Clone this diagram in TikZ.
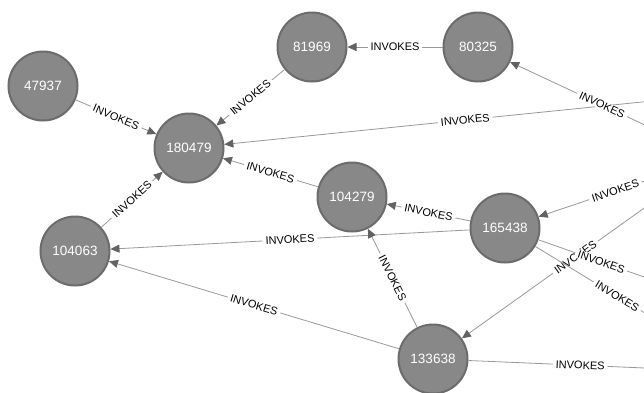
\documentclass[tikz,border=0pt]{standalone}
\usepackage{fontspec}
\setmainfont{Liberation Sans}
\usepackage{tikz}
\usetikzlibrary{arrows.meta}
\definecolor{nodegray}{HTML}{888888}
\definecolor{rimgray}{HTML}{6C6C6C}
\definecolor{edgegray}{HTML}{999999}
\definecolor{tipgray}{HTML}{626262}

\begin{document}
\begin{tikzpicture}[
x=1pt, y=-1pt,
every node/.style={circle, draw=rimgray, fill=nodegray, line width=2pt, minimum size=69pt, inner sep=0, text=white, font=\fontsize{13.5}{14}\selectfont},
lbl/.style={rectangle, draw=none, fill=white, text=black, minimum size=0pt, inner xsep=3pt, inner ysep=0.5pt, sloped, font=\fontsize{11}{12}\selectfont},
rel/.style={draw=edgegray, line width=0.8pt, -{Triangle[length=9pt, width=8pt, color=tipgray, fill=tipgray]}}
]
\useasboundingbox[fill=white] (0,0) rectangle (644,392);
\clip (0,0) rectangle (644,392);
% nodes
\node (n47937) at (43,86) {47937};
\node (n81969) at (312,47) {81969};
\node (n80325) at (478,47) {80325};
\node (n180479) at (189,148) {180479};
\node (n104279) at (352,197) {104279};
\node (n104063) at (75,251) {104063};
\node (n165438) at (505,228) {165438};
\node (n133638) at (433,359) {133638};
% ends outside the frame
\coordinate (offA) at (706,95.5);
\coordinate (offB) at (694,148);
\coordinate (offC) at (692,165);
\coordinate (offD) at (689,176);
\coordinate (offE) at (664,284);
\coordinate (offF) at (699,346);
\coordinate (offG) at (692,370);
% relations
\draw[rel] (n47937) to node[lbl] {INVOKES} (n180479);
\draw[rel] (n81969) to node[lbl] {INVOKES} (n180479);
\draw[rel] (n80325) to node[lbl] {INVOKES} (n81969);
\draw[rel] (offA) to node[lbl] {INVOKES} (n180479);
\draw[rel] (offB) to node[lbl] {INVOKES} (n80325);
\draw[rel] (n104279) to node[lbl] {INVOKES} (n180479);
\draw[rel] (n104063) to node[lbl] {INVOKES} (n180479);
\draw[rel] (n165438) to node[lbl] {INVOKES} (n104279);
\draw[rel] (n165438) to node[lbl] {INVOKES} (n104063);
\draw[rel] (n133638) to node[lbl] {INVOKES} (n104063);
\draw[rel] (n133638) to node[lbl] {INVOKES} (n104279);
\draw[rel] (offC) to node[lbl] {INVOKES} (n165438);
\draw[rel] (offD) to node[lbl] {INVOKES} (n133638);
\draw[rel] (n165438) to node[lbl] {INVOKES} (offE);
\draw[rel] (n165438) to node[lbl] {INVOKES} (offF);
\draw[rel] (n133638) to node[lbl] {INVOKES} (offG);
\end{tikzpicture}
\end{document}
